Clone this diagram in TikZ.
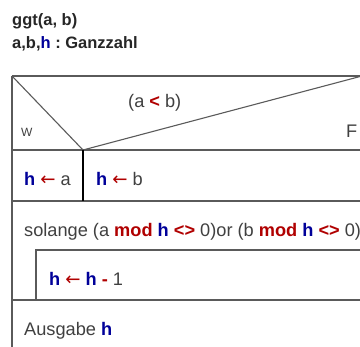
\documentclass[tikz,border=0pt]{standalone}
\usepackage{fontspec}
\setmainfont{Liberation Sans}
\newfontfamily\arrowfont{DejaVu Sans}
\frenchspacing
\definecolor{kw}{HTML}{B00000}
\definecolor{vr}{HTML}{000099}
\definecolor{tx}{HTML}{404040}
\definecolor{ln}{HTML}{5A5A5A}
\newcommand{\hv}{\textcolor{vr}{\textbf{h}}}
\newcommand{\op}[1]{\textcolor{kw}{\textbf{#1}}}
\newcommand{\la}{\textcolor{kw}{{\arrowfont ←}}}
\begin{document}
\begin{tikzpicture}[x=1pt,y=-1pt,
  lbl/.style={anchor=base west, inner sep=0pt, text=tx, font=\fontsize{18.2}{20}\selectfont},
  head/.style={anchor=base west, inner sep=0pt, text=black!85, font=\fontsize{16.5}{19}\selectfont\bfseries},
  box/.style={draw=ln, line width=1.1pt}]
\useasboundingbox (0,0) rectangle (360,347);
\clip (0,0) rectangle (360,347);
% structure coordinates
\coordinate (tl) at (12,76);
\coordinate (tr) at (365,76);
\coordinate (cr) at (362,76);
\coordinate (ml) at (12,150);
\coordinate (mr) at (365,150);
\coordinate (md) at (83,150);
\coordinate (mdb) at (83,201);
\coordinate (bl) at (12,201);
\coordinate (br) at (365,201);
\coordinate (il) at (36,250);
\coordinate (ir) at (365,250);
\coordinate (ilb) at (36,300);
\coordinate (ol) at (12,300);
\coordinate (or) at (365,300);
\coordinate (end) at (12,350);
% lines
\draw[box] (tl) -- (tr);
\draw[box] (tl) -- (end);
\draw[box] (ml) -- (mr);
\draw[box] (bl) -- (br);
\draw[box] (ol) -- (or);
\draw[box] (tl) -- (md) -- (cr);
\draw[box, draw=black] (md) -- (mdb);
\draw[box] (ir) -- (il) -- (ilb);
% texts
\node[head] (t1) at (12,26) {ggt(a, b)};
\node[head] (t2) at (12,49) {a,b,\textcolor{vr}{h} : Ganzzahl};
\node[lbl] (cond) at (128,108) {(a \op{<} b)};
\node[lbl, font=\fontsize{12}{14}\selectfont] (w) at (21,137) {W};
\node[lbl] (f) at (346,138) {F};
\node[lbl] (ya) at (24,186) {\hv\ \la\ a};
\node[lbl] (yb) at (96,186) {\hv\ \la\ b};
\node[lbl] (loop) at (24,237) {solange (a \op{mod} \hv\ \op{<>} 0)or (b \op{mod} \hv\ \op{<>} 0)};
\node[lbl] (dec) at (49,286) {\hv\ \la\ \hv\ \op{-} 1};
\node[lbl] (out) at (24,336) {Ausgabe \hv};
\end{tikzpicture}
\end{document}
